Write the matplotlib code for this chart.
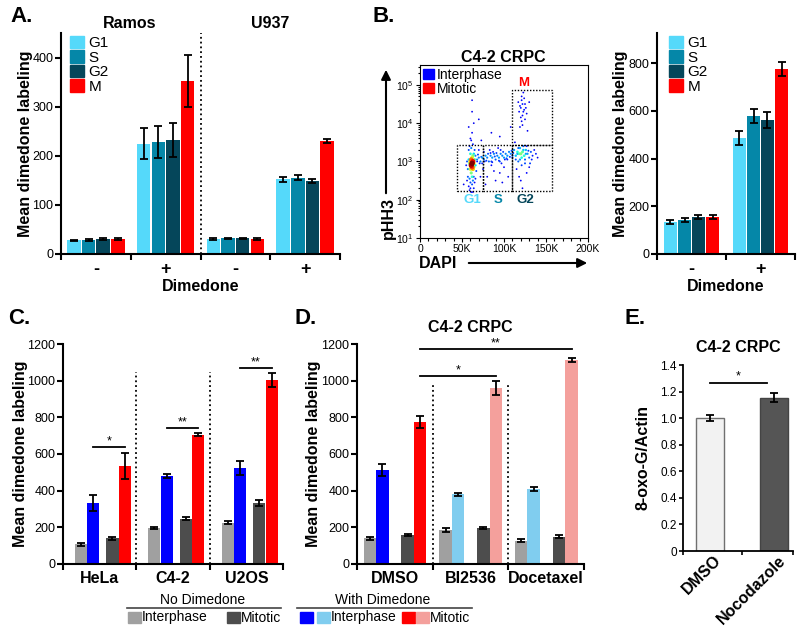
import matplotlib
matplotlib.use("Agg")
import matplotlib.pyplot as plt
import matplotlib.transforms as mtransforms
import numpy as np
from matplotlib.patches import Patch, Rectangle, FancyArrowPatch

plt.rcParams['font.family'] = ['Liberation Sans', 'DejaVu Sans']
plt.rcParams['mathtext.fontset'] = 'custom'
plt.rcParams['mathtext.rm'] = 'Liberation Sans'
plt.rcParams['mathtext.bf'] = 'Liberation Sans:bold'

W, H = 800, 627

# ---------------- data ----------------
phases = ["G1", "S", "G2", "M"]
phase_colors = ["#55d9fa", "#0587a8", "#05465a", "#ff0000"]

# panel A: Ramos -, Ramos +, U937 -, U937 +
a_groups = ["-", "+", "-", "+"]
a_g1 = [28, 225, 30, 152]
a_s = [28, 228, 32, 155]
a_g2 = [30, 232, 32, 149]
a_m = [30, 352, 30, 231]
a_g1_err = [1.5, 31, 2, 5]
a_s_err = [2, 33, 1.5, 5]
a_g2_err = [2, 34, 1.5, 4]
a_m_err = [2, 53, 2, 4]

# panel B right
b_groups = ["-", "+"]
b_g1 = [133, 487]
b_s = [142, 578]
b_g2 = [155, 562]
b_m = [155, 775]
b_g1_err = [9, 30]
b_s_err = [10, 30]
b_g2_err = [9, 35]
b_m_err = [7, 30]

# panel B left: flow cytometry events (DAPI in K, log10 pHH3, density)
flow_x = [62, 61, 63, 62, 61, 63, 60, 64, 62, 60, 64, 61, 63, 59, 65, 60, 62, 58, 66, 64,
          57, 66, 59, 63, 58, 65, 61, 67, 56, 60, 64, 62, 59, 57, 66, 63, 60, 64, 68, 55,
          61, 58, 65, 63, 60, 62, 58, 64, 61, 56, 62, 59,
          68, 70, 72, 74, 76, 78, 80, 82, 84, 86, 88, 90, 92, 94, 96, 98, 100, 102, 104, 106,
          108, 110, 75, 80, 85, 90, 95, 100, 72, 88, 105, 78, 98, 83, 93, 70, 71, 77, 87, 97,
          69, 73, 79, 81, 85, 89, 91, 95, 99, 103, 107, 109, 74, 84, 94, 104, 76, 86, 96, 101,
          120, 122, 118, 124, 116, 121, 126, 114, 119, 128, 112, 123, 130, 117, 132, 110, 125,
          134, 115, 127, 120, 136, 113, 122, 130, 118, 119, 123, 126, 116,
          111, 114, 117, 125, 129, 133, 138, 121, 127, 131,
          120, 122, 124, 121, 123, 119, 125, 122, 118, 126, 121, 124, 120, 123, 117, 127, 125,
          122, 128, 119, 130, 121,
          85, 95, 70, 62, 108, 52, 73, 140]
flow_y = [2.95, 2.90, 3.00, 2.85, 3.05, 2.80, 3.00, 2.95, 3.10, 2.80, 2.85, 2.70, 3.15, 2.95,
          3.05, 3.20, 2.60, 3.05, 2.90, 3.20,
          2.80, 3.15, 2.55, 2.50, 3.30, 3.30, 3.35, 2.75, 3.00, 2.45, 2.60, 2.40, 3.40, 2.60,
          2.55, 3.45, 2.30, 2.30, 3.00, 2.90,
          2.20, 2.35, 2.45, 2.20, 3.60, 3.75, 3.90, 4.00, 3.55, 2.50, 4.30, 2.25,
          3.05, 3.10, 3.00, 3.10, 3.05, 3.15, 3.10, 3.00, 3.15, 3.10, 3.20, 3.05, 3.15, 3.10,
          3.20, 3.15, 3.10, 3.20, 3.15, 3.25,
          3.20, 3.15, 2.80, 2.60, 2.90, 2.50, 2.70, 2.85, 2.60, 2.75, 2.60, 2.40, 2.45, 3.30,
          3.35, 3.30, 2.95, 3.00, 3.25, 2.95,
          3.18, 3.12, 3.02, 3.20, 3.00, 3.13, 3.22, 3.00, 3.25, 3.08, 3.12, 3.28, 2.95, 3.22,
          3.02, 3.05, 3.25, 2.98, 3.30, 3.05,
          3.20, 3.25, 3.20, 3.15, 3.25, 3.10, 3.30, 3.15, 3.35, 3.20, 3.30, 3.40, 3.10, 3.00,
          3.25, 3.10, 2.95,
          3.15, 2.80, 2.70, 2.50, 3.30, 3.50, 2.30, 2.85, 2.60, 3.05, 3.30, 3.20, 3.20,
          3.22, 3.05, 3.35, 3.05, 3.28, 3.05, 3.20, 2.90, 3.40, 2.95,
          4.40, 4.50, 4.35, 4.60, 4.30, 4.45, 4.50, 4.20, 4.30, 4.40, 4.70, 4.65, 4.15, 4.80,
          4.55, 4.25, 4.10,
          3.95, 3.80, 3.90, 4.55, 4.05,
          3.75, 3.65, 4.10, 4.60, 3.90, 2.40, 3.55, 3.10]
flow_d = [1.0, 0.95, 0.9, 0.85, 0.8, 0.7, 0.7, 0.65, 0.6, 0.6, 0.55, 0.5, 0.5, 0.5, 0.45,
          0.4, 0.4, 0.35, 0.35, 0.35,
          0.25, 0.25, 0.25, 0.25, 0.2, 0.2, 0.25, 0.2, 0.2, 0.2, 0.2, 0.2, 0.15, 0.2, 0.15,
          0.15, 0.15, 0.15, 0.15, 0.15,
          0.12, 0.12, 0.12, 0.12, 0.12, 0.12, 0.1, 0.1, 0.12, 0.1, 0.1, 0.1,
          0.25, 0.25, 0.25, 0.28, 0.25, 0.28, 0.25, 0.22, 0.25, 0.28, 0.25, 0.22, 0.25, 0.28,
          0.25, 0.25, 0.28, 0.25, 0.28, 0.25,
          0.25, 0.22, 0.12, 0.1, 0.12, 0.1, 0.1, 0.12, 0.1, 0.1, 0.1, 0.1, 0.1, 0.12,
          0.12, 0.12, 0.15, 0.15, 0.15, 0.15,
          0.18, 0.2, 0.18, 0.2, 0.18, 0.2, 0.18, 0.2, 0.18, 0.2, 0.18, 0.2, 0.15, 0.15,
          0.15, 0.15, 0.15, 0.15, 0.15, 0.15,
          0.5, 0.45, 0.42, 0.4, 0.38, 0.38, 0.32, 0.32, 0.3, 0.28, 0.28, 0.22, 0.22, 0.22,
          0.2, 0.2, 0.2,
          0.15, 0.12, 0.12, 0.12, 0.12, 0.12, 0.1, 0.1, 0.1, 0.28, 0.32, 0.28, 0.28,
          0.2, 0.2, 0.2, 0.22, 0.18, 0.15, 0.15, 0.18, 0.15, 0.18,
          0.15, 0.15, 0.14, 0.14, 0.14, 0.12, 0.12, 0.12, 0.12, 0.12, 0.1, 0.1, 0.1, 0.1,
          0.1, 0.1, 0.1,
          0.1, 0.1, 0.1, 0.1, 0.1,
          0.1, 0.1, 0.1, 0.1, 0.1, 0.1, 0.1, 0.1]

# gates
gate_names = ["G1", "S", "G2", "M"]
gate_x0 = [44, 75, 110, 110]
gate_x1 = [75, 110, 157, 157]
gate_y0 = [2.22, 2.22, 2.22, 3.43]
gate_y1 = [3.43, 3.43, 3.43, 4.87]
gate_colors = ["#55d9fa", "#0587a8", "#05465a", "#ff0000"]

# panel C
c_cells = ["HeLa", "C4-2", "U2OS"]
c_inter_nodim = [108, 197, 225]
c_inter_dim = [333, 481, 522]
c_mit_nodim = [141, 248, 333]
c_mit_dim = [535, 706, 1005]
c_inter_nodim_err = [9, 7, 9]
c_inter_dim_err = [45, 12, 38]
c_mit_nodim_err = [9, 10, 15]
c_mit_dim_err = [72, 8, 38]

# panel D
d_treat = ["DMSO", "BI2536", "Docetaxel"]
d_inter_nodim = [140, 185, 127]
d_inter_dim = [512, 380, 407]
d_mit_nodim = [158, 196, 149]
d_mit_dim = [774, 960, 1113]
d_inter_nodim_err = [8, 10, 7]
d_inter_dim_err = [32, 8, 11]
d_mit_nodim_err = [5, 6, 8]
d_mit_dim_err = [32, 36, 13]

# panel E
e_treat = ["DMSO", "Nocodazole"]
e_vals = [1.0, 1.155]
e_err = [0.025, 0.032]

GRAY = "#a0a0a0"
DGRAY = "#4d4d4d"
BLUE = "#0000ff"
LBLUE = "#80cdef"
RED = "#ff0000"
PINK = "#f4a09c"

fig = plt.figure(figsize=(8, 6.27), dpi=100)


def rect(x0, y0, x1, y1):
    return [x0 / W, 1 - y1 / H, (x1 - x0) / W, (y1 - y0) / H]


def ftext(x, y, s, **kw):
    fig.text(x / W, 1 - y / H, s, **kw)


def prism_axes(ax, ngroups, labels, lsize=11):
    for sp in ["top", "right"]:
        ax.spines[sp].set_visible(False)
    for sp in ["left", "bottom"]:
        ax.spines[sp].set_linewidth(1.5)
    ax.set_xlim(-0.5, ngroups - 0.5)
    ax.set_xticks(np.arange(ngroups + 1) - 0.5)
    ax.set_xticklabels([])
    ax.set_xticks(np.arange(ngroups), minor=True)
    ax.set_xticklabels(labels, minor=True, fontsize=lsize, fontweight="bold")
    ax.tick_params(axis="x", which="major", length=4, width=1.5, direction="out")
    ax.tick_params(axis="x", which="minor", length=0, pad=5)
    ax.tick_params(axis="y", length=4, width=1.5, labelsize=9, pad=1.5)


def bars(ax, x, vals, errs, color, width, **kw):
    ax.bar(x, vals, width, color=color, zorder=2, **kw)
    ax.errorbar(x, vals, yerr=errs, fmt="none", ecolor="black", elinewidth=1.3,
                capsize=3, capthick=1.3, zorder=3)


def sig(ax, x0, x1, y, label):
    ax.plot([x0, x1], [y, y], color="black", lw=1.3, clip_on=False)
    ax.text((x0 + x1) / 2, y, label, ha="center", va="bottom", fontsize=9)


# ---------------- panel A ----------------
axA = fig.add_axes(rect(61, 33, 340, 254))
prism_axes(axA, 4, a_groups, lsize=13)
xa = np.arange(4)
offs4 = [-0.315, -0.105, 0.105, 0.315]
for vals, errs, off, col, lab in zip([a_g1, a_s, a_g2, a_m], [a_g1_err, a_s_err, a_g2_err, a_m_err],
                                     offs4, phase_colors, phases):
    bars(axA, xa + off, vals, errs, col, 0.195, label=lab)
axA.set_ylim(0, 450)
axA.set_yticks([0, 100, 200, 300, 400])
axA.axvline(1.5, color="black", ls=":", lw=1.3, zorder=1)
axA.set_ylabel("Mean dimedone labeling", fontsize=11.5, fontweight="bold")
axA.yaxis.set_label_coords(-0.10, 0.5)
axA.set_xlabel("Dimedone", fontsize=11.5, fontweight="bold", labelpad=1)
axA.legend(handles=[Patch(color=c, label=l) for c, l in zip(phase_colors, phases)],
           loc="upper left", bbox_to_anchor=(0.0, 1.03), frameon=False, fontsize=11,
           handlelength=0.9, handleheight=0.9, handletextpad=0.3, labelspacing=0.0,
           borderaxespad=0.2)
ftext(130, 23, "Ramos", fontsize=11.5, fontweight="bold", ha="center", va="center")
ftext(270, 23, "U937", fontsize=11.5, fontweight="bold", ha="center", va="center")
ftext(10, 17, "A.", fontsize=16, fontweight="bold", ha="left", va="center")

# ---------------- panel B (flow) ----------------
axF = fig.add_axes(rect(420, 65, 588, 238))
order = np.argsort(flow_d)
fx = np.array(flow_x)[order]
fy = 10 ** np.array(flow_y)[order]
fd = np.array(flow_d)[order]
axF.scatter(fx, fy, c=fd, cmap="jet", vmin=0, vmax=1, s=1.5 + 14 * fd ** 2, marker="o",
            linewidths=0, zorder=2)
axF.set_yscale("log")
axF.set_xlim(0, 200)
axF.set_ylim(10, 10 ** 5.52)
axF.set_xticks([0, 50, 100, 150, 200])
axF.set_xticklabels(["0", "50K", "100K", "150K", "200K"])
axF.set_xticks(np.arange(0, 201, 10), minor=True)
axF.set_yticks([10, 100, 1000, 1e4, 1e5])
axF.set_yticklabels(["10$^1$", "10$^2$", "10$^3$", "10$^4$", "10$^5$"])
axF.tick_params(which="both", direction="out", labelsize=7.5, width=0.8, pad=1.5)
axF.tick_params(which="major", length=3)
axF.tick_params(which="minor", length=1.8)
for sp in axF.spines.values():
    sp.set_linewidth(0.8)
for nm, x0, x1, y0, y1, gc in zip(gate_names, gate_x0, gate_x1, gate_y0, gate_y1, gate_colors):
    axF.add_patch(Rectangle((x0, 10 ** y0), x1 - x0, 10 ** y1 - 10 ** y0, fill=False,
                            ls=(0, (1, 1.2)), lw=1.0, ec="black", zorder=3))
    if nm == "M":
        axF.text((x0 + x1) / 2 - 10, 10 ** (y1 + 0.18), nm, color=gc, fontsize=9.5,
                 fontweight="bold", ha="center", va="center")
    else:
        axF.text((x0 + x1) / 2 + (3 if nm == "G1" else 0) - (8 if nm == "G2" else 0),
                 10 ** (y0 - 0.22), nm, color=gc, fontsize=9.5,
                 fontweight="bold", ha="center", va="center")
axF.legend(handles=[Patch(color=BLUE, label="Interphase"), Patch(color=RED, label="Mitotic")],
           loc="upper left", frameon=False, fontsize=10, handlelength=0.8, handleheight=0.8,
           handletextpad=0.2, labelspacing=0.0, borderaxespad=0.1, borderpad=0.1)
ftext(503, 57, "C4-2 CRPC", fontsize=11.5, fontweight="bold", ha="center", va="center")
ftext(388, 218, "pHH3", fontsize=11.5, fontweight="bold", ha="center", va="center", rotation=90)
ftext(438, 264, "DAPI", fontsize=11.5, fontweight="bold", ha="center", va="center")
fig.add_artist(FancyArrowPatch((386 / W, 1 - 196 / H), (386 / W, 1 - 67 / H),
                               transform=fig.transFigure, arrowstyle="-|>",
                               mutation_scale=14, lw=1.5, color="black"))
fig.add_artist(FancyArrowPatch((466 / W, 1 - 263 / H), (590 / W, 1 - 263 / H),
                               transform=fig.transFigure, arrowstyle="-|>",
                               mutation_scale=14, lw=1.5, color="black"))
ftext(372, 17, "B.", fontsize=16, fontweight="bold", ha="left", va="center")

# ---------------- panel B (bars) ----------------
axB = fig.add_axes(rect(657, 33, 795, 254))
prism_axes(axB, 2, b_groups, lsize=13)
xb = np.arange(2)
offsB = [-0.31, -0.1, 0.1, 0.31]
for vals, errs, off, col in zip([b_g1, b_s, b_g2, b_m], [b_g1_err, b_s_err, b_g2_err, b_m_err],
                                offsB, phase_colors):
    bars(axB, xb + off, vals, errs, col, 0.19)
axB.set_ylim(0, 926)
axB.set_yticks([0, 200, 400, 600, 800])
axB.set_ylabel("Mean dimedone labeling", fontsize=11.5, fontweight="bold")
axB.yaxis.set_label_coords(-0.21, 0.5)
axB.set_xlabel("Dimedone", fontsize=11.5, fontweight="bold", labelpad=1)
axB.legend(handles=[Patch(color=c, label=l) for c, l in zip(phase_colors, phases)],
           loc="upper left", bbox_to_anchor=(0.02, 1.03), frameon=False, fontsize=11,
           handlelength=0.9, handleheight=0.9, handletextpad=0.3, labelspacing=0.0,
           borderaxespad=0.2)

# ---------------- panel C ----------------
axC = fig.add_axes(rect(63, 344, 283, 564))
prism_axes(axC, 3, c_cells, lsize=11.5)
xc = np.arange(3)
offsC = [-0.255, -0.085, 0.175, 0.345]
wC = 0.165
bars(axC, xc + offsC[0], c_inter_nodim, c_inter_nodim_err, GRAY, wC)
bars(axC, xc + offsC[1], c_inter_dim, c_inter_dim_err, BLUE, wC)
bars(axC, xc + offsC[2], c_mit_nodim, c_mit_nodim_err, DGRAY, wC)
bars(axC, xc + offsC[3], c_mit_dim, c_mit_dim_err, RED, wC)
axC.set_ylim(0, 1200)
axC.set_yticks(np.arange(0, 1201, 200))
axC.tick_params(axis="y", labelsize=9)
for xv in [0.5, 1.5]:
    axC.plot([xv, xv], [0, 1050], color="black", ls=":", lw=1.3, zorder=1)
sig(axC, -0.085, 0.345, 636, "*")
sig(axC, 0.915, 1.345, 741, "**")
sig(axC, 1.915, 2.345, 1069, "**")
axC.set_ylabel("Mean dimedone labeling", fontsize=11.5, fontweight="bold")
axC.yaxis.set_label_coords(-0.158, 0.5)
ftext(8, 318, "C.", fontsize=16, fontweight="bold", ha="left", va="center")

# ---------------- panel D ----------------
axD = fig.add_axes(rect(357, 344, 584, 564))
prism_axes(axD, 3, d_treat, lsize=11.5)
xd = np.arange(3)
offsD = [-0.33, -0.165, 0.17, 0.335]
bars(axD, xd + offsD[0], d_inter_nodim, d_inter_nodim_err, GRAY, wC)
bars(axD, xd + offsD[1], d_inter_dim, d_inter_dim_err, [BLUE, LBLUE, LBLUE], wC)
bars(axD, xd + offsD[2], d_mit_nodim, d_mit_nodim_err, DGRAY, wC)
bars(axD, xd + offsD[3], d_mit_dim, d_mit_dim_err, [RED, PINK, PINK], wC)
axD.set_ylim(0, 1200)
axD.set_yticks(np.arange(0, 1201, 200))
axD.tick_params(axis="y", labelsize=9)
for xv in [0.5, 1.5]:
    axD.plot([xv, xv], [0, 990], color="black", ls=":", lw=1.3, zorder=1)
sig(axD, 0.335, 1.335, 1025, "*")
sig(axD, 0.335, 2.335, 1173, "**")
axD.set_ylabel("Mean dimedone labeling", fontsize=11.5, fontweight="bold")
axD.yaxis.set_label_coords(-0.16, 0.5)
ftext(470, 328, "C4-2 CRPC", fontsize=11.5, fontweight="bold", ha="center", va="center")
ftext(295, 318, "D.", fontsize=16, fontweight="bold", ha="left", va="center")

# ---------------- panel E ----------------
axE = fig.add_axes(rect(683, 365, 793, 551))
for sp in ["top", "right"]:
    axE.spines[sp].set_visible(False)
for sp in ["left", "bottom"]:
    axE.spines[sp].set_linewidth(1.3)
xe = np.arange(2)
axE.bar(xe, e_vals, 0.43, color=["#f2f2f2", "#555555"], edgecolor=["#707070", "#444444"],
        linewidth=1.0, zorder=2)
axE.errorbar(xe, e_vals, yerr=e_err, fmt="none", ecolor="black", elinewidth=1.3,
             capsize=3, capthick=1.3, zorder=3)
axE.set_xlim(-0.42, 1.3)
axE.set_ylim(0, 1.4)
axE.set_yticks(np.arange(0, 1.41, 0.2))
axE.set_yticklabels(["0"] + ["%.1f" % v for v in np.arange(0.2, 1.41, 0.2)])
axE.set_xticks([-0.42, 0.5, 1.3])
axE.set_xticklabels([])
axE.set_xticks(xe, minor=True)
axE.set_xticklabels(e_treat, minor=True, rotation=45, ha="right", va="center",
                    rotation_mode="anchor", fontsize=11.5, fontweight="bold")
axE.tick_params(axis="x", which="major", length=3, width=1.2)
axE.tick_params(axis="x", which="minor", length=0, pad=5)
axE.tick_params(axis="y", length=3, width=1.2, labelsize=8.5, pad=1.5)
shift = mtransforms.ScaledTranslation(9 / 100, 0, fig.dpi_scale_trans)
for lbl in axE.get_xticklabels(minor=True):
    lbl.set_transform(lbl.get_transform() + shift)
sig(axE, 0.0, 0.9, 1.265, "*")
axE.set_ylabel("8-oxo-G/Actin", fontsize=11.5, fontweight="bold")
axE.yaxis.set_label_coords(-0.30, 0.5)
ftext(738, 347, "C4-2 CRPC", fontsize=11.5, fontweight="bold", ha="center", va="center")
ftext(625, 318, "E.", fontsize=16, fontweight="bold", ha="left", va="center")


# ---------------- bottom legend ----------------
def fsquare(x0, y0, x1, y1, color):
    fig.add_artist(Rectangle((x0 / W, 1 - y1 / H), (x1 - x0) / W, (y1 - y0) / H,
                             transform=fig.transFigure, color=color))


def fline(x0, x1, y):
    fig.add_artist(plt.Line2D([x0 / W, x1 / W], [1 - y / H, 1 - y / H],
                              transform=fig.transFigure, color="#444444", lw=1.2))


ftext(203, 600, "No Dimedone", fontsize=10, ha="center", va="center")
fline(127, 281, 608)
fsquare(128, 612, 141, 623, GRAY)
ftext(142, 617.5, "Interphase", fontsize=10, ha="left", va="center")
fsquare(227, 612, 240, 623, DGRAY)
ftext(241, 617.5, "Mitotic", fontsize=10, ha="left", va="center")

ftext(383, 600, "With Dimedone", fontsize=10, ha="center", va="center")
fline(297, 472, 608)
fsquare(300, 612, 313, 623, BLUE)
fsquare(317, 612, 330, 623, LBLUE)
ftext(331, 617.5, "Interphase", fontsize=10, ha="left", va="center")
fsquare(402, 612, 415, 623, RED)
fsquare(416, 612, 429, 623, PINK)
ftext(430, 617.5, "Mitotic", fontsize=10, ha="left", va="center")

fig.savefig("out.png", dpi=100)
